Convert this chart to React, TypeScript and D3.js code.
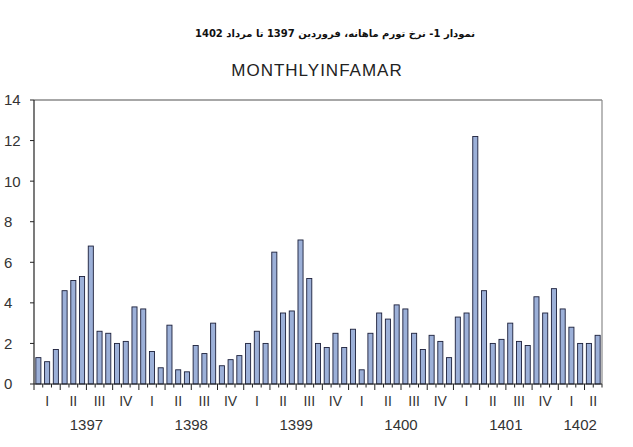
import React, { useRef, useEffect } from 'react';
import { select, scaleBand, scaleLinear, range } from 'd3';

// monthly inflation, Farvardin 1397 .. Mordad 1402
const years = ['1397', '1398', '1399', '1400', '1401', '1402'];
const quarterNames = ['I', 'II', 'III', 'IV'];
const values1397 = [1.3, 1.1, 1.7, 4.6, 5.1, 5.3, 6.8, 2.6, 2.5, 2.0, 2.1, 3.8];
const values1398 = [3.7, 1.6, 0.8, 2.9, 0.7, 0.6, 1.9, 1.5, 3.0, 0.9, 1.2, 1.4];
const values1399 = [2.0, 2.6, 2.0, 6.5, 3.5, 3.6, 7.1, 5.2, 2.0, 1.8, 2.5, 1.8];
const values1400 = [2.7, 0.7, 2.5, 3.5, 3.2, 3.9, 3.7, 2.5, 1.7, 2.4, 2.1, 1.3];
const values1401 = [3.3, 3.5, 12.2, 4.6, 2.0, 2.2, 3.0, 2.1, 1.9, 4.3, 3.5, 4.7];
const values1402 = [3.7, 2.8, 2.0, 2.0, 2.4];
const yTicks = [0, 2, 4, 6, 8, 10, 12, 14];

const values = [...values1397, ...values1398, ...values1399, ...values1400, ...values1401, ...values1402];

const W = 633;
const H = 447;
const margin = { left: 34, right: 31, top: 100, bottom: 63 };

const App: React.FC = () => {
  const svgRef = useRef<SVGSVGElement | null>(null);

  useEffect(() => {
    if (!svgRef.current) return;
    const svg = select(svgRef.current);
    svg.selectAll('*').remove();

    const x0 = margin.left;
    const x1 = W - margin.right;
    const y0 = H - margin.bottom;
    const y1 = margin.top;

    const x = scaleBand<number>()
      .domain(range(values.length))
      .range([x0, x1])
      .paddingInner(0.42)
      .paddingOuter(0.21);
    const step = x.step();
    const edge = (i: number) => x0 + i * step;

    const y = scaleLinear().domain([0, 14]).range([y0, y1]);

    // frame: top and right in grey
    svg.append('line').attr('x1', x0).attr('x2', x1).attr('y1', y1).attr('y2', y1)
      .attr('stroke', '#8a8a8a').attr('stroke-width', 1.5);
    svg.append('line').attr('x1', x1).attr('x2', x1).attr('y1', y1).attr('y2', y0)
      .attr('stroke', '#8a8a8a').attr('stroke-width', 1.2);

    // bars
    svg.append('g').selectAll('rect')
      .data(values)
      .enter().append('rect')
      .attr('x', (d, i) => x(i)!)
      .attr('width', x.bandwidth())
      .attr('y', d => y(d))
      .attr('height', d => y0 - y(d))
      .attr('fill', '#9cb0d8')
      .attr('stroke', '#1b1f3a')
      .attr('stroke-width', 0.9);

    // left axis
    svg.append('line').attr('x1', x0).attr('x2', x0).attr('y1', y1).attr('y2', y0)
      .attr('stroke', '#222').attr('stroke-width', 1.2);
    const yg = svg.append('g');
    yTicks.forEach(t => {
      yg.append('line').attr('x1', x0 - 4).attr('x2', x0).attr('y1', y(t)).attr('y2', y(t))
        .attr('stroke', '#222');
      yg.append('text').attr('x', 4).attr('y', y(t)).attr('dy', '0.36em')
        .attr('font-family', 'Liberation Sans, Arial, sans-serif')
        .attr('font-size', 15).attr('fill', '#333').text(t);
    });

    // bottom axis
    svg.append('line').attr('x1', x0).attr('x2', x1).attr('y1', y0).attr('y2', y0)
      .attr('stroke', '#222').attr('stroke-width', 1.2);
    const xg = svg.append('g');
    range(values.length + 1).forEach(i => {
      const long = i % 3 === 0;
      xg.append('line').attr('x1', edge(i)).attr('x2', edge(i))
        .attr('y1', y0).attr('y2', y0 + (long ? 6 : 3.5))
        .attr('stroke', '#222').attr('stroke-width', 1);
    });

    // quarter labels
    const nQuarters = Math.ceil(values.length / 3);
    range(nQuarters).forEach(q => {
      const start = q * 3;
      const end = Math.min(start + 3, values.length);
      const cx = (edge(start) + edge(end)) / 2;
      xg.append('text').attr('x', cx).attr('y', y0 + 17).attr('dy', '0.36em')
        .attr('text-anchor', 'middle')
        .attr('font-family', 'Liberation Sans, Arial, sans-serif')
        .attr('font-size', 14).attr('fill', '#333')
        .text(quarterNames[q % 4]);
    });

    // year labels
    years.forEach((yr, k) => {
      const start = k * 12;
      const end = Math.min(start + 12, values.length);
      const cx = (edge(start) + edge(end)) / 2;
      xg.append('text').attr('x', cx).attr('y', y0 + 41).attr('dy', '0.36em')
        .attr('text-anchor', 'middle')
        .attr('font-family', 'Liberation Sans, Arial, sans-serif')
        .attr('font-size', 15).attr('fill', '#333')
        .text(yr);
    });

    // titles
    svg.append('text').attr('x', 335).attr('y', 37)
      .attr('text-anchor', 'middle')
      .attr('direction', 'rtl')
      .attr('font-family', 'DejaVu Sans, Noto Sans, sans-serif')
      .attr('font-weight', 'bold')
      .attr('font-size', 10).attr('fill', '#111')
      .text('نمودار 1- نرخ تورم ماهانه، فروردین 1397 تا مرداد 1402');

    svg.append('text').attr('x', 317).attr('y', 76)
      .attr('text-anchor', 'middle')
      .attr('font-family', 'Liberation Sans, Arial, sans-serif')
      .attr('font-size', 17).attr('letter-spacing', 1).attr('fill', '#222')
      .text('MONTHLYINFAMAR');
  }, []);

  return (
    <div style={{ position: 'fixed', left: 0, top: 0, width: W, height: H, background: '#fff' }}>
      <svg ref={svgRef} width={W} height={H}></svg>
    </div>
  );
};

export default App;
